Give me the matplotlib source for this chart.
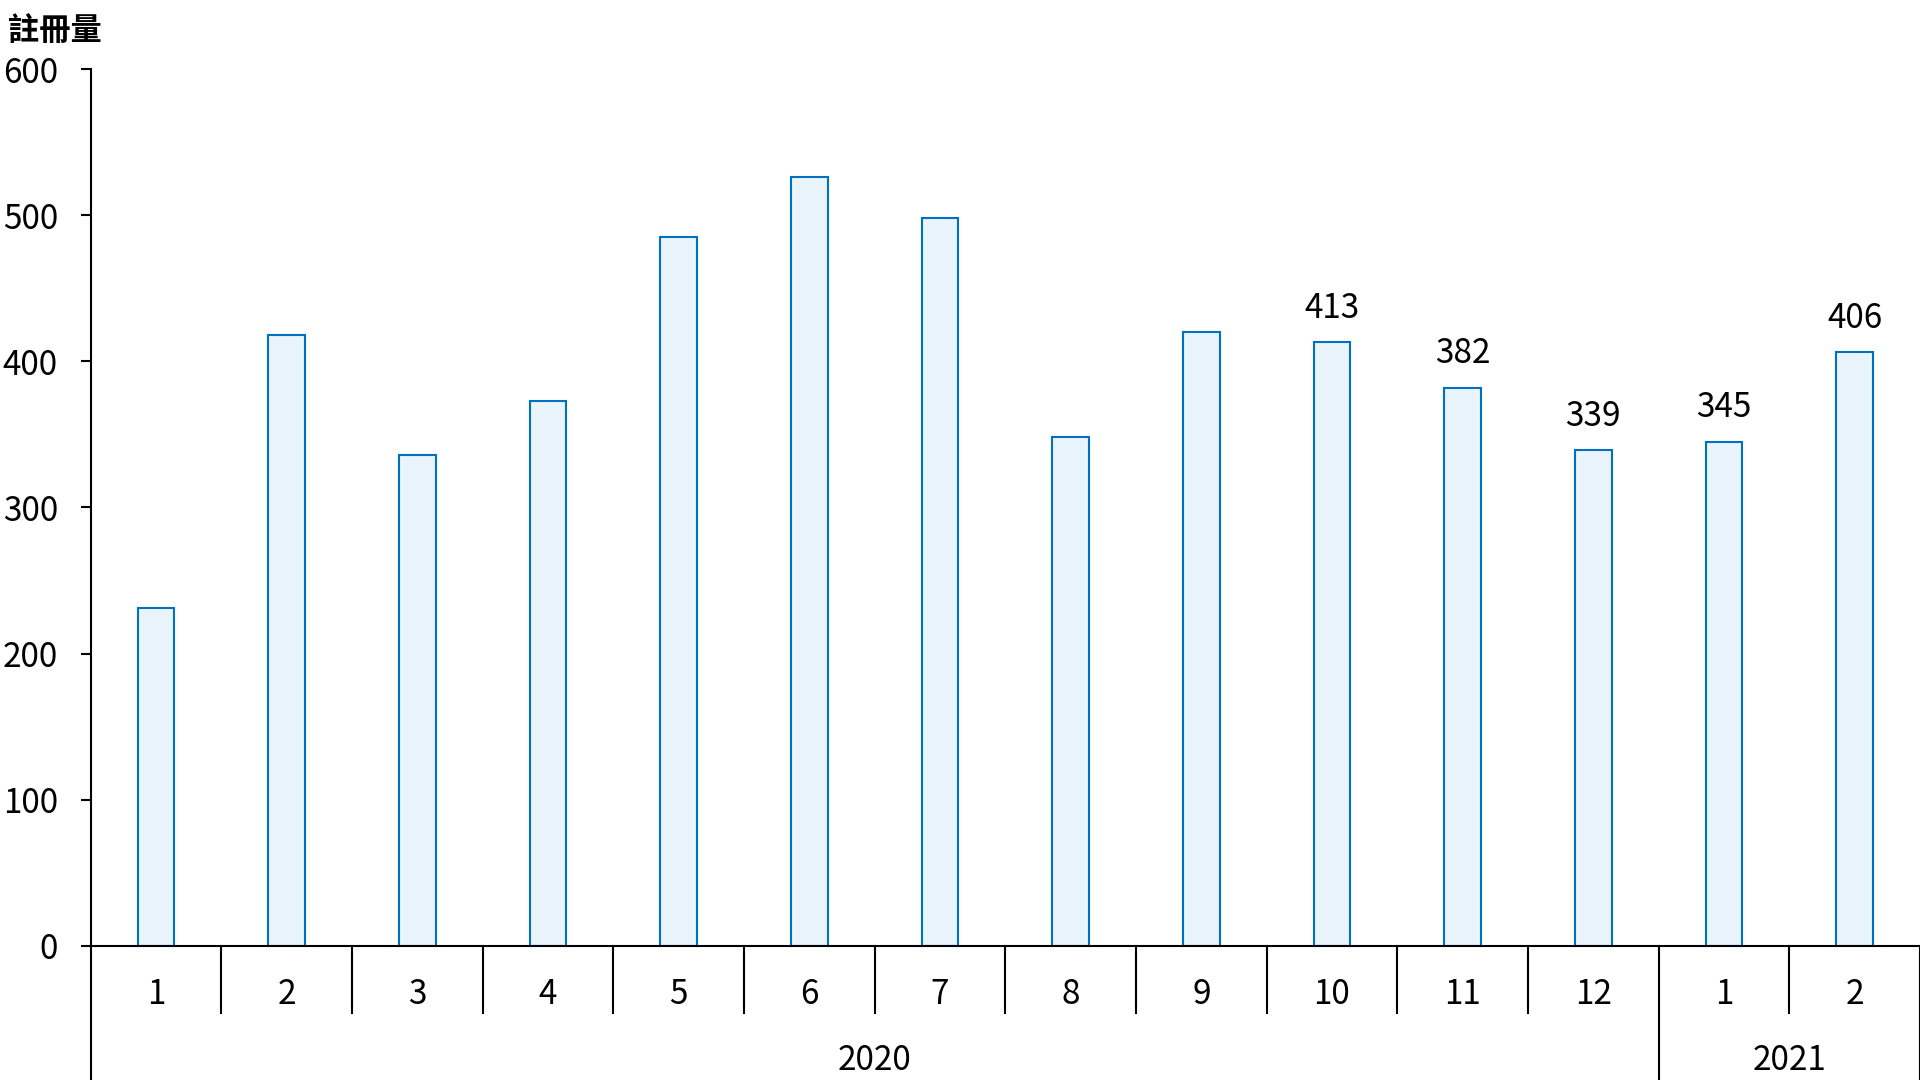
import matplotlib.pyplot as plt
import matplotlib.transforms as mtransforms

plt.rcParams['font.family'] = ['Noto Sans CJK TC', 'DejaVu Sans']

# 資料
months = ['1', '2', '3', '4', '5', '6', '7', '8', '9', '10', '11', '12', '1', '2']
years = ['2020', '2021']
year_counts = [12, 2]
values = [231, 418, 336, 373, 485, 526, 498, 348, 420, 413, 382, 339, 345, 406]
labelled = [9, 10, 11, 12, 13]  # 有標數值的柱

edge = '#0070C0'
fill = '#EAF4FD'

fig = plt.figure(figsize=(19.2, 10.8), dpi=100)
ax = fig.add_axes([0.0472, 0.1243, 0.9528, 0.8118])

x = list(range(len(values)))
bars = ax.bar(x, values, width=0.28, color=fill, edgecolor=edge, linewidth=1.5, zorder=2)

for i in labelled:
    ax.annotate(str(values[i]), (x[i], values[i]), xytext=(0, 12), textcoords='offset points',
                ha='center', va='bottom', fontsize=24)

ax.set_xlim(-0.5, len(values) - 0.5)
ax.set_ylim(0, 600)
ax.set_yticks(range(0, 601, 100))
ax.tick_params(axis='y', labelsize=24, length=7.5, width=1.5, pad=16)
for lbl in ax.get_yticklabels():
    lbl.set_va('center_baseline')
ax.set_xticks([])

for s in ['top', 'right']:
    ax.spines[s].set_visible(False)
ax.spines['left'].set_linewidth(1.5)
ax.spines['bottom'].set_linewidth(1.5)

# 分類軸 (月 / 年)
trans = mtransforms.blended_transform_factory(ax.transData, fig.transFigure)
y_axis = 0.1243
y_month_tick = 0.0623
for i, m in enumerate(months):
    ax.text(i, 0.079, m, transform=trans, ha='center', va='center', fontsize=24)

year_edges = [-0.5]
for c in year_counts:
    year_edges.append(year_edges[-1] + c)
for i, yname in enumerate(years):
    mid = (year_edges[i] + year_edges[i + 1]) / 2
    ax.text(mid, 0.018, yname, transform=trans, ha='center', va='center', fontsize=24)

for b in [i + 0.5 for i in range(len(months) - 1)]:
    if b in year_edges:
        continue
    ax.plot([b, b], [y_axis, y_month_tick], transform=trans, color='black', lw=1.5, clip_on=False)
for b in year_edges:
    ax.plot([b, b], [y_axis, 0], transform=trans, color='black', lw=1.5, clip_on=False)

fig.text(0.004, 0.971, '註冊量', ha='left', va='center', fontsize=22.5, fontweight='bold')

fig.savefig('out.png', dpi=100)
